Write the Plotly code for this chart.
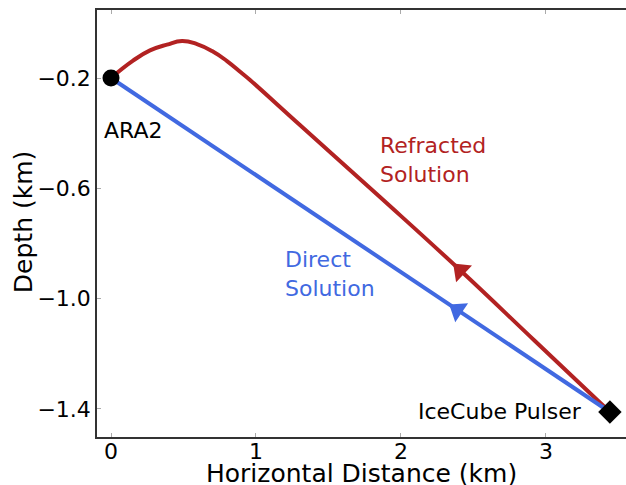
import numpy as np
import plotly.graph_objects as go

# Refracted ray path (km)
refr_x = [0.0, 0.152, 0.269, 0.386, 0.490, 0.593, 0.697, 0.800, 0.897, 0.959, 1.303, 1.855, 2.407, 2.924, 3.441]
refr_y = [-0.2, -0.1370, -0.1000, -0.0790, -0.0658, -0.0770, -0.1021, -0.1384, -0.1801, -0.2073,
          -0.3704, -0.6315, -0.8962, -1.1536, -1.4111]

# Direct ray path (km)
direct_x = [0.0, 3.441]
direct_y = [-0.2, -1.411]

# Station / pulser
ara2 = (0.0, -0.2)
pulser = (3.441, -1.411)

# Arrow positions along each path (km)
refr_arrow_x = 2.41
direct_arrow_x = 2.39

RED = "#B22222"
BLUE = "#4169E1"
FONT = "DejaVu Sans"

fig = go.Figure()
fig.add_trace(go.Scatter(x=refr_x, y=refr_y, mode="lines",
                         line=dict(color=RED, width=4, shape="spline", smoothing=1.3)))
fig.add_trace(go.Scatter(x=direct_x, y=direct_y, mode="lines", line=dict(color=BLUE, width=4)))


def arrow(xs, ys, xa, color):
    xp = xa + 0.05
    ya = float(np.interp(xa, xs, ys))
    yp = float(np.interp(xp, xs, ys))
    return go.Scatter(x=[xp, xa], y=[yp, ya], mode="markers",
                      marker=dict(symbol="triangle-up", size=[0, 20], color=color, opacity=1,
                                  angleref="previous", line=dict(width=0)))


fig.add_trace(arrow(refr_x, refr_y, refr_arrow_x, RED))
fig.add_trace(arrow(direct_x, direct_y, direct_arrow_x, BLUE))

fig.add_trace(go.Scatter(x=[ara2[0]], y=[ara2[1]], mode="markers",
                         marker=dict(symbol="circle", size=17, color="black")))
fig.add_trace(go.Scatter(x=[pulser[0]], y=[pulser[1]], mode="markers",
                         marker=dict(symbol="diamond", size=18, color="black")))

annos = [
    dict(x=-0.062, y=-0.392, text="ARA2", xanchor="left", yanchor="middle", font=dict(color="black")),
    dict(x=1.841, y=-0.497, text="Refracted<br>Solution", xanchor="left", yanchor="middle", align="left", font=dict(color=RED)),
    dict(x=1.186, y=-0.911, text="Direct<br>Solution", xanchor="left", yanchor="middle", align="left", font=dict(color=BLUE)),
    dict(x=3.262, y=-1.411, text="IceCube Pulser", xanchor="right", yanchor="middle", font=dict(color="black")),
]
for a in annos:
    a["font"].update(family=FONT, size=22)
    fig.add_annotation(xref="x", yref="y", showarrow=False, **a)

fig.add_annotation(xref="paper", yref="paper", x=0.5, y=-0.1124, text="Horizontal Distance (km)",
                   showarrow=False, xanchor="center", yanchor="bottom", yshift=-5,
                   font=dict(family=FONT, size=25, color="black"))
fig.add_annotation(xref="paper", yref="paper", x=-0.14, y=0.503, text="Depth (km)", textangle=-90,
                   showarrow=False, xanchor="center", yanchor="middle", font=dict(family=FONT, size=25, color="black"))

fig.update_layout(
    width=626, height=485,
    margin=dict(l=97, r=0, t=10, b=48),
    paper_bgcolor="white", plot_bgcolor="white",
    showlegend=False,
    font=dict(family=FONT, size=22, color="black"),
    xaxis=dict(range=[-0.0966, 3.552], tickvals=[0, 1, 2, 3], showgrid=False, zeroline=False,
               showline=True, linecolor="#333333", linewidth=1.5, mirror="ticks",
               ticks="inside", ticklen=4, tickcolor="#aaaaaa", tickfont=dict(size=22),
               ticklabelstandoff=-6),
    yaxis=dict(range=[-1.5017, 0.0466], tickvals=[-0.2, -0.6, -1.0, -1.4], tickformat=".1f",
               showgrid=False, zeroline=False, showline=True, linecolor="#333333", linewidth=1.5,
               ticks="inside", ticklen=4, tickcolor="#aaaaaa", tickfont=dict(size=22)),
)

fig.write_html("out.html")
